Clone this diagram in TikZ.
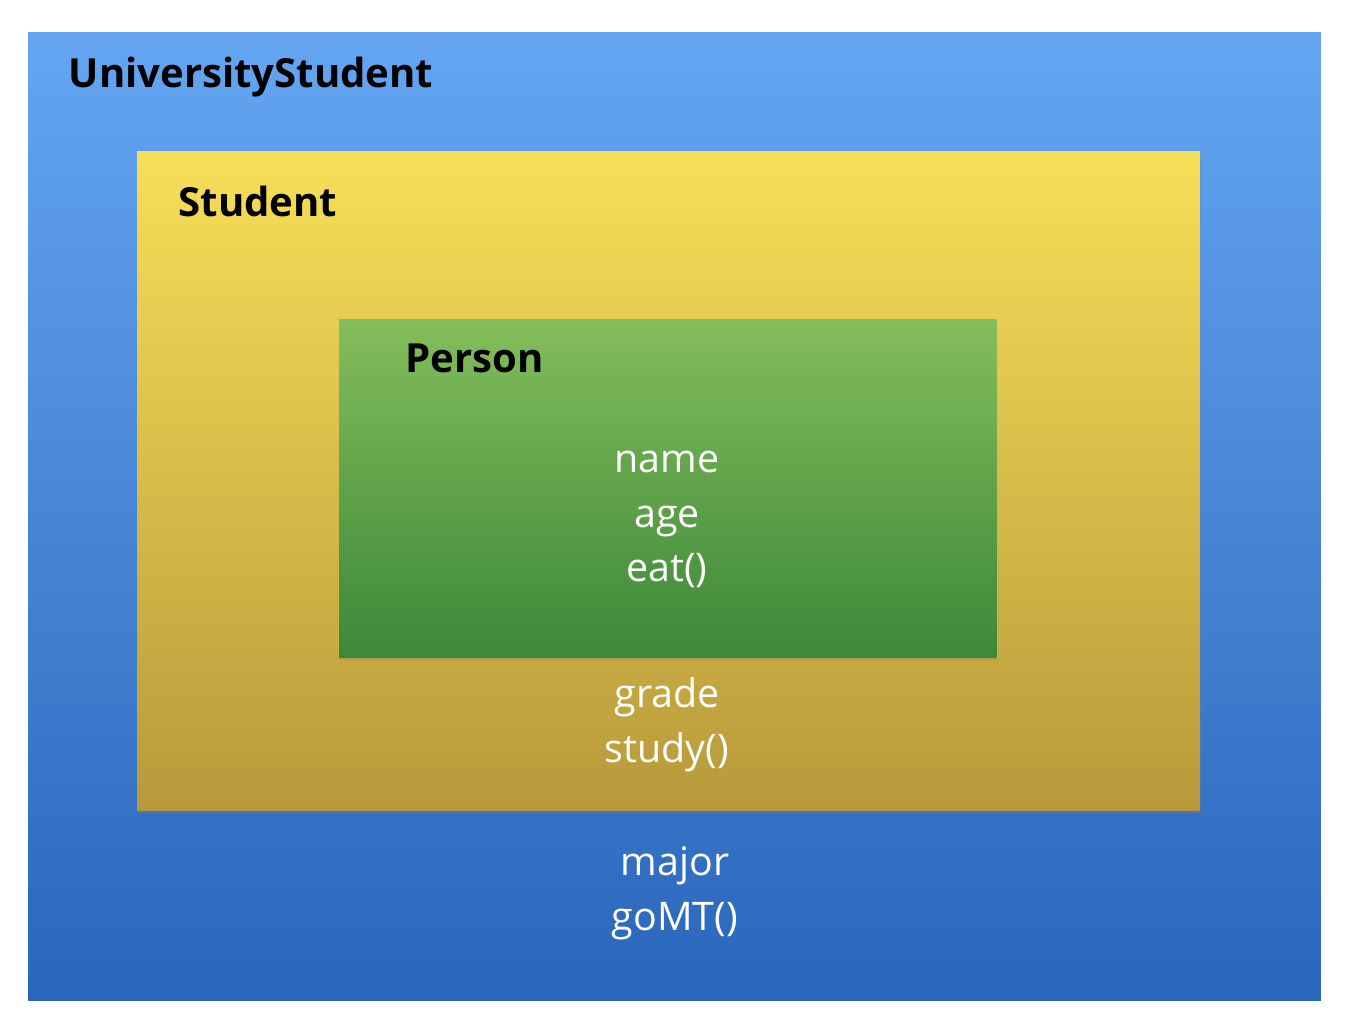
\documentclass[tikz,border=0pt]{standalone}
\usepackage{fontspec}
\setmainfont{Open Sans}
\usetikzlibrary{shadows}
\definecolor{UniTop}{HTML}{64A6F2}
\definecolor{UniBot}{HTML}{2A66BB}
\definecolor{StuTop}{HTML}{F6DF58}
\definecolor{StuBot}{HTML}{B8993B}
\definecolor{PerTop}{HTML}{84BD5B}
\definecolor{PerBot}{HTML}{3C8839}
\begin{document}
\begin{tikzpicture}[x=0.01cm, y=-0.01cm,
  classbox/.style={rectangle, inner sep=0pt, outer sep=0pt, anchor=north west},
  classname/.style={anchor=base west, inner sep=0pt, font=\fontsize{11.4}{14}\selectfont\bfseries},
  member/.style={anchor=base, inner sep=0pt, text=white, font=\fontsize{11.2}{14}\selectfont}]
  \fill[white] (0,0) rectangle (1354,1022);
  \useasboundingbox (0,0) rectangle (1354,1022);
  % nested class boxes
  \node[classbox, top color=UniTop, bottom color=UniBot,
    minimum width=12.92cm, minimum height=9.67cm] (uni) at (28,33) {};
  \node[classbox, top color=StuTop, bottom color=StuBot,
    drop shadow={shadow xshift=0.3pt, shadow yshift=-0.8pt, opacity=0.3},
    minimum width=10.62cm, minimum height=6.58cm] (stu) at (137,152) {};
  \node[classbox, top color=PerTop, bottom color=PerBot,
    drop shadow={shadow xshift=0.3pt, shadow yshift=-0.8pt, opacity=0.3},
    minimum width=6.57cm, minimum height=3.37cm] (per) at (339,320) {};
  % class names
  \node[classname] (uniname) at (68,88) {UniversityStudent};
  \node[classname] (stuname) at (178,217) {Student};
  \node[classname] (pername) at (405,373) {Person};
  % members
  \foreach \txt/\y [count=\i] in {name/473, age/528, eat()/582}
    {\node[member] (permem\i) at (667,\y) {\txt};}
  \foreach \txt/\y [count=\i] in {grade/708, study()/763}
    {\node[member] (stumem\i) at (667,\y) {\txt};}
  \foreach \txt/\y [count=\i] in {major/876, goMT()/931}
    {\node[member] (unimem\i) at (675,\y) {\txt};}
\end{tikzpicture}
\end{document}
